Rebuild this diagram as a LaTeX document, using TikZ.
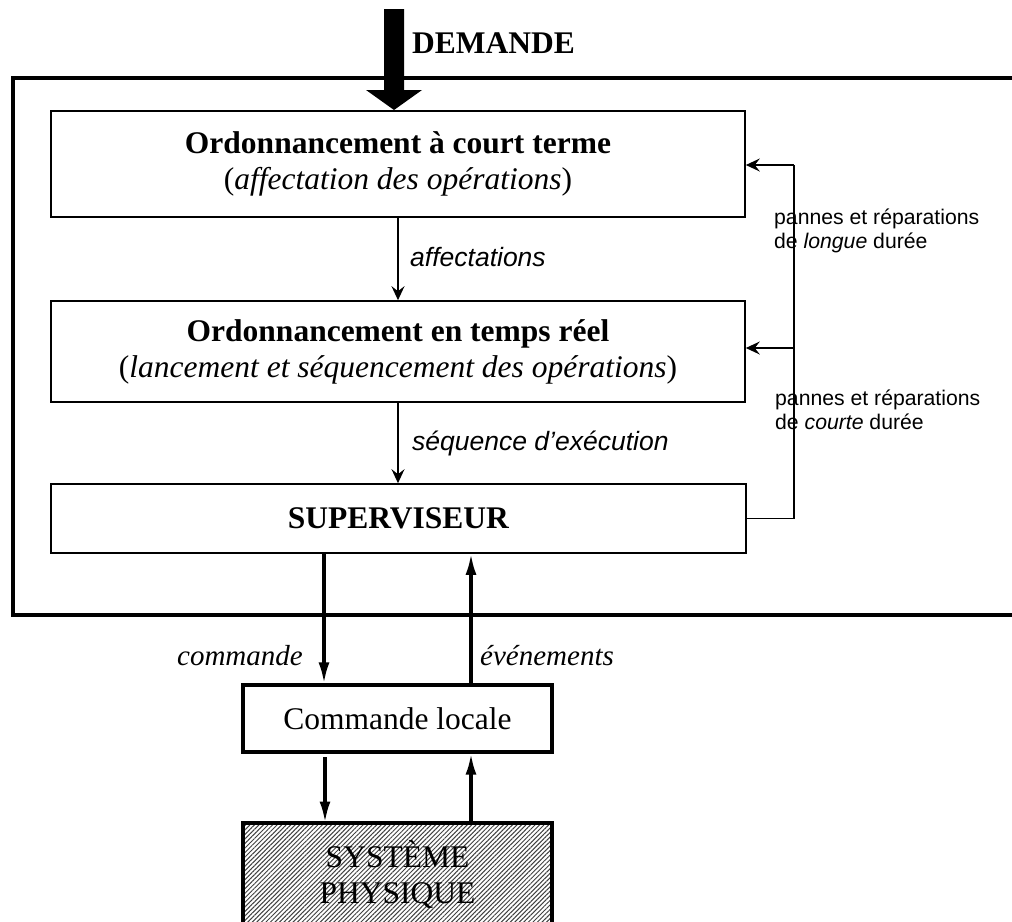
\documentclass[tikz,border=0pt]{standalone}
\usepackage{fontspec}
\setmainfont{Liberation Serif}
\newfontfamily\arialf{Liberation Sans}
\usetikzlibrary{arrows.meta,patterns.meta}

\tikzset{
  big/.style={font=\fontsize{31.5}{36}\selectfont},
  level/.style={draw, line width=1.6pt, minimum width=694pt, align=center, inner sep=0pt, big},
  thickbox/.style={draw, line width=3.2pt, inner sep=0pt},
  thinarrow/.style={line width=1.5pt, -{Stealth[length=14pt,width=13pt,inset=5pt]}},
  fatarrow/.style={line width=3.2pt, -{Latex[length=21pt,width=11pt]}},
  flowlabel/.style={font=\arialf\itshape\fontsize{26.5}{30}\selectfont, inner sep=0pt},
  sidelabel/.style={font=\arialf\fontsize{21.2}{24}\selectfont, align=left, inner sep=0pt},
  iolabel/.style={font=\itshape\fontsize{29}{34}\selectfont, inner sep=0pt},
}

\begin{document}
\begin{tikzpicture}[x=1pt, y=-1pt]
\useasboundingbox (0,0) rectangle (1012,921);
\clip (0,0) rectangle (1012,921);

% outer frame (open on the right)
\draw[line width=3.4pt] (1030,78) -- (13,78) -- (13,615) -- (1030,615);

% demand input: block arrow
\fill (384,9) -- (404,9) -- (404,90) -- (422,90) -- (394,110) -- (366,90) -- (384,90) -- cycle;
\node[font=\bfseries\fontsize{31.5}{36}\selectfont, anchor=west, inner sep=0pt] (dem) at (412,43) {DEMANDE};

% decision levels
\node[level, minimum height=106pt] (ct) at (398,164)
  {\textbf{Ordonnancement à court terme}\\(\textit{affectation des opérations})};
\node[level, minimum height=101pt] (tr) at (398,351.5)
  {\textbf{Ordonnancement en temps réel}\\(\textit{lancement et séquencement des opérations})};
\node[level, minimum width=695pt, minimum height=69pt] (sup) at (398.5,518.5)
  {\textbf{SUPERVISEUR}};

% downward flows
\draw[thinarrow] (ct.south -| 398,0) -- (tr.north -| 398,0);
\node[flowlabel, anchor=base west] (aff) at (410,266) {affectations};
\draw[thinarrow] (tr.south -| 398,0) -- (sup.north -| 398,0);
\node[flowlabel, anchor=base west] (seq) at (412,450) {séquence d’exécution};

% feedback from the supervisor
\coordinate (fbtop) at (794,165);
\coordinate (fbmid) at (794,348);
\draw[line width=1.5pt] (sup.east) -| (fbtop);
\draw[thinarrow] (fbtop) -- (ct.east |- fbtop);
\draw[thinarrow] (fbmid) -- (tr.east |- fbmid);
\node[sidelabel, anchor=west] (lg) at (774,231)
  {pannes et réparations\\de \textit{longue} durée};
\node[sidelabel, anchor=west] (cr) at (775,410)
  {pannes et réparations\\de \textit{courte} durée};

% local control and physical system
\node[thickbox, minimum width=309pt, minimum height=67pt, big] (loc) at (397.5,718.5) {Commande locale};
\node[thickbox, minimum width=309pt, minimum height=130pt,
      pattern={Lines[angle=45,distance=3.2pt,line width=1pt]}, pattern color=black!75] (sys) at (397.5,888) {};
\node[big, align=center, inner sep=0pt] (systxt) at (397.5,875) {SYSTÈME\\PHYSIQUE};

\draw[fatarrow] (sup.south -| 324,0) -- (loc.north -| 324,0);
\draw[fatarrow] (loc.north -| 471,0) -- (sup.south -| 471,0);
\node[iolabel, anchor=base east] (cmd) at (303,665) {commande};
\node[iolabel, anchor=base west] (evt) at (480,665) {événements};

\coordinate (locdn) at (325,757);
\draw[fatarrow] (locdn) -- (sys.north -| locdn);
\draw[fatarrow] (sys.north -| 471,0) -- (loc.south -| 471,0);
\end{tikzpicture}
\end{document}
